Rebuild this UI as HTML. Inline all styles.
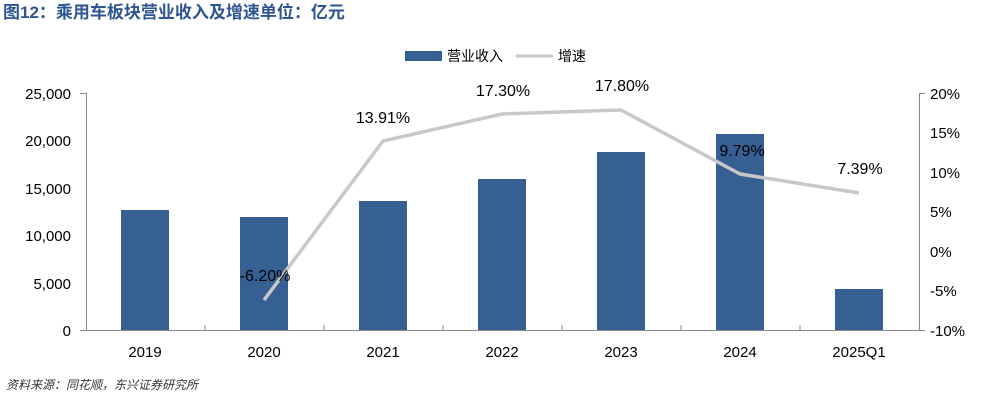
<!DOCTYPE html>
<html><head><meta charset="utf-8"><style>
body{margin:0;background:#fff;width:990px;height:400px;overflow:hidden}
svg text{font-family:"Liberation Sans","Noto Sans CJK SC",sans-serif}
</style></head><body>
<svg width="990" height="400" xmlns="http://www.w3.org/2000/svg">
<text x="3" y="18" font-size="17" font-weight="bold" fill="#2d5592">图12：乘用车板块营业收入及增速单位：亿元</text>
<rect x="405" y="51" width="37" height="10" fill="#365f92"/>
<text x="447" y="61" font-size="14" fill="#000">营业收入</text>
<line x1="516" y1="56" x2="553" y2="56" stroke="#c8c8c8" stroke-width="3"/>
<text x="558" y="61" font-size="14" fill="#000">增速</text>
<g font-size="15" fill="#000" text-anchor="end">
<text x="71" y="99">25,000</text><text x="71" y="146">20,000</text><text x="71" y="194">15,000</text>
<text x="71" y="241">10,000</text><text x="71" y="289">5,000</text><text x="71" y="336">0</text>
</g>
<g font-size="15" fill="#000">
<text x="930" y="99">20%</text><text x="930" y="138">15%</text><text x="930" y="178">10%</text>
<text x="930" y="217">5%</text><text x="930" y="257">0%</text><text x="930" y="296">-5%</text><text x="930" y="336">-10%</text>
</g>
<line x1="86.5" y1="93" x2="86.5" y2="330" stroke="#888"/>
<line x1="919.5" y1="93" x2="919.5" y2="330" stroke="#888"/>
<line x1="86" y1="330.5" x2="920" y2="330.5" stroke="#888"/>
<g stroke="#888">
<line x1="80" y1="93.5" x2="86" y2="93.5"/><line x1="80" y1="330.5" x2="86" y2="330.5"/>
<line x1="919" y1="93.5" x2="925" y2="93.5"/><line x1="919" y1="330.5" x2="925" y2="330.5"/>
<line x1="205" y1="325" x2="205" y2="330"/><line x1="324" y1="325" x2="324" y2="330"/>
<line x1="443" y1="325" x2="443" y2="330"/><line x1="562" y1="325" x2="562" y2="330"/>
<line x1="681" y1="325" x2="681" y2="330"/><line x1="800" y1="325" x2="800" y2="330"/>
</g>
<g fill="#365f92">
<rect x="121" y="210" width="48" height="120"/>
<rect x="240" y="217" width="48" height="113"/>
<rect x="359" y="201" width="48" height="129"/>
<rect x="478" y="179" width="48" height="151"/>
<rect x="597" y="152" width="48" height="178"/>
<rect x="716" y="134" width="48" height="196"/>
<rect x="835" y="289" width="48" height="41"/>
</g>
<polyline points="264,300 383,141 502,114 621,110 740,174 859,193" fill="none" stroke="#c8c8c8" stroke-width="3.5" stroke-linejoin="round"/>
<g font-size="16" fill="#000" text-anchor="middle">
<text x="265" y="281">-6.20%</text><text x="383" y="123">13.91%</text><text x="503" y="96">17.30%</text>
<text x="622" y="91">17.80%</text><text x="742" y="156">9.79%</text><text x="860" y="174">7.39%</text>
</g>
<g font-size="15" fill="#000" text-anchor="middle">
<text x="145" y="357">2019</text><text x="264" y="357">2020</text><text x="383" y="357">2021</text>
<text x="502" y="357">2022</text><text x="621" y="357">2023</text><text x="740" y="357">2024</text><text x="859" y="357">2025Q1</text>
</g>
<text x="6" y="389" font-size="12" font-style="italic" fill="#333" font-family="'Noto Serif CJK SC',serif">资料来源：同花顺，东兴证券研究所</text>
</svg>
</body></html>
